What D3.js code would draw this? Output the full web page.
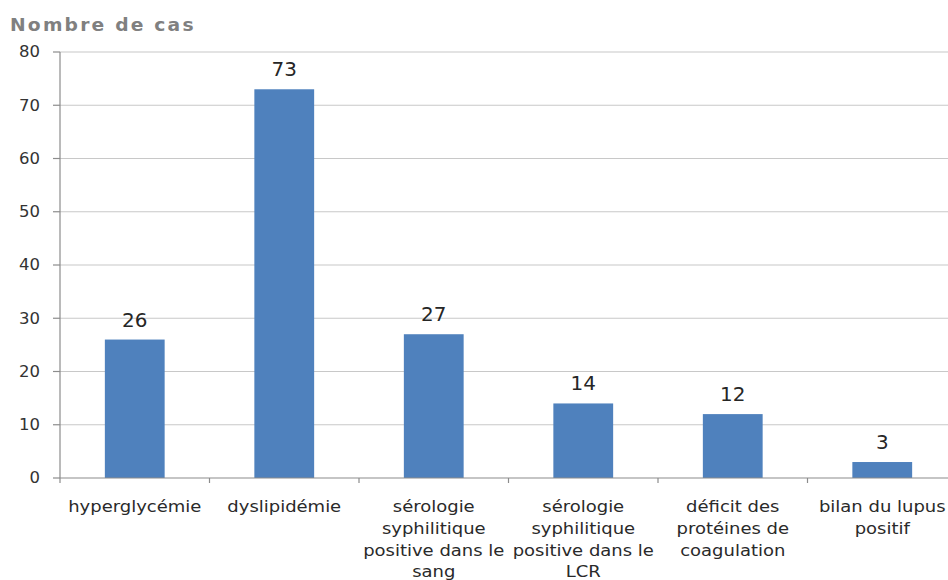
<!DOCTYPE html>
<html><head><meta charset="utf-8">
<script src="https://cdn.jsdelivr.net/npm/d3@7"></script>
<style>html,body{margin:0;padding:0;background:#fff;}svg{display:block;}</style>
</head><body>
<svg id="c" width="948" height="580"></svg>
<script>
const categories = ["hyperglycémie","dyslipidémie","sérologie syphilitique positive dans le sang","sérologie syphilitique positive dans le LCR","déficit des protéines de coagulation","bilan du lupus positif"];
const categoryLines = [
  ["hyperglycémie"],
  ["dyslipidémie"],
  ["sérologie","syphilitique","positive dans le","sang"],
  ["sérologie","syphilitique","positive dans le","LCR"],
  ["déficit des","protéines de","coagulation"],
  ["bilan du lupus","positif"]
];
const values = [26,73,27,14,12,3];
const yTicks = [0,10,20,30,40,50,60,70,80];
const yTitle = "Nombre de cas";

const svg = d3.select("#c");
const x0 = 60, x1 = 957, yBottom = 478, yTop = 52;
const x = d3.scaleBand().domain(categories).range([x0,x1]).paddingInner(0.6).paddingOuter(0.3);
const y = d3.scaleLinear().domain([0,80]).range([yBottom,yTop]);
const SX = 1.1;
const font = "'DejaVu Sans', Verdana, sans-serif";

// gridlines
svg.append("g").selectAll("line").data(yTicks.filter(d=>d>0)).join("line")
  .attr("x1",x0).attr("x2",948).attr("y1",d=>y(d)).attr("y2",d=>y(d))
  .attr("stroke","#c8c8c8").attr("stroke-width",1.2);

// y axis line + ticks
svg.append("line").attr("x1",x0).attr("x2",x0).attr("y1",yTop).attr("y2",yBottom)
  .attr("stroke","#8c8c8c").attr("stroke-width",1.2);
svg.append("g").selectAll("line").data(yTicks).join("line")
  .attr("x1",x0-7).attr("x2",x0).attr("y1",d=>y(d)).attr("y2",d=>y(d))
  .attr("stroke","#8c8c8c").attr("stroke-width",1.2);
svg.append("g").selectAll("g").data(yTicks).join("g")
  .attr("transform",d=>`translate(40,${y(d)}) scale(${SX},1)`)
  .append("text").attr("text-anchor","end").attr("dy","0.36em")
  .attr("font-family",font).attr("font-size",15).attr("fill","#333").text(d=>d);

// bars
svg.append("g").selectAll("rect").data(values).join("rect")
  .attr("x",(d,i)=>x(categories[i])).attr("width",x.bandwidth())
  .attr("y",d=>y(d)).attr("height",d=>y(0)-y(d))
  .attr("fill","#4f81bd");

// x axis line + ticks at boundaries
svg.append("line").attr("x1",x0).attr("x2",948).attr("y1",yBottom).attr("y2",yBottom)
  .attr("stroke","#8c8c8c").attr("stroke-width",1.2);
const step = x.step();
const bounds = d3.range(categories.length+1).map(i=>x(categories[0]) - x.paddingOuter()*step + i*step);
svg.append("g").selectAll("line").data(bounds).join("line")
  .attr("x1",d=>d).attr("x2",d=>d).attr("y1",yBottom).attr("y2",yBottom+5)
  .attr("stroke","#8c8c8c").attr("stroke-width",1.2);

// value labels
svg.append("g").selectAll("g").data(values).join("g")
  .attr("transform",(d,i)=>`translate(${x(categories[i])+x.bandwidth()/2},${y(d)-13}) scale(1.05,1)`)
  .append("text").attr("text-anchor","middle")
  .attr("font-family",font).attr("font-size",19).attr("fill","#262626").text(d=>d);

// category labels
categories.forEach((c,i)=>{
  const cx = x(c)+x.bandwidth()/2;
  const g = svg.append("g").attr("transform",`translate(${cx},0) scale(1.2,1)`);
  g.selectAll("text").data(categoryLines[i]).join("text")
    .attr("x",0).attr("y",(d,j)=>512+j*21.8).attr("text-anchor","middle")
    .attr("font-family",font).attr("font-size",15).attr("fill","#2a2a2a").text(d=>d);
});

// y title
svg.append("g").attr("transform",`translate(10,31) scale(${SX},1)`)
  .append("text").attr("font-family",font).attr("font-size",17).attr("font-weight","bold")
  .attr("letter-spacing",2.0).attr("fill","#808080").text(yTitle);
</script>
</body></html>
